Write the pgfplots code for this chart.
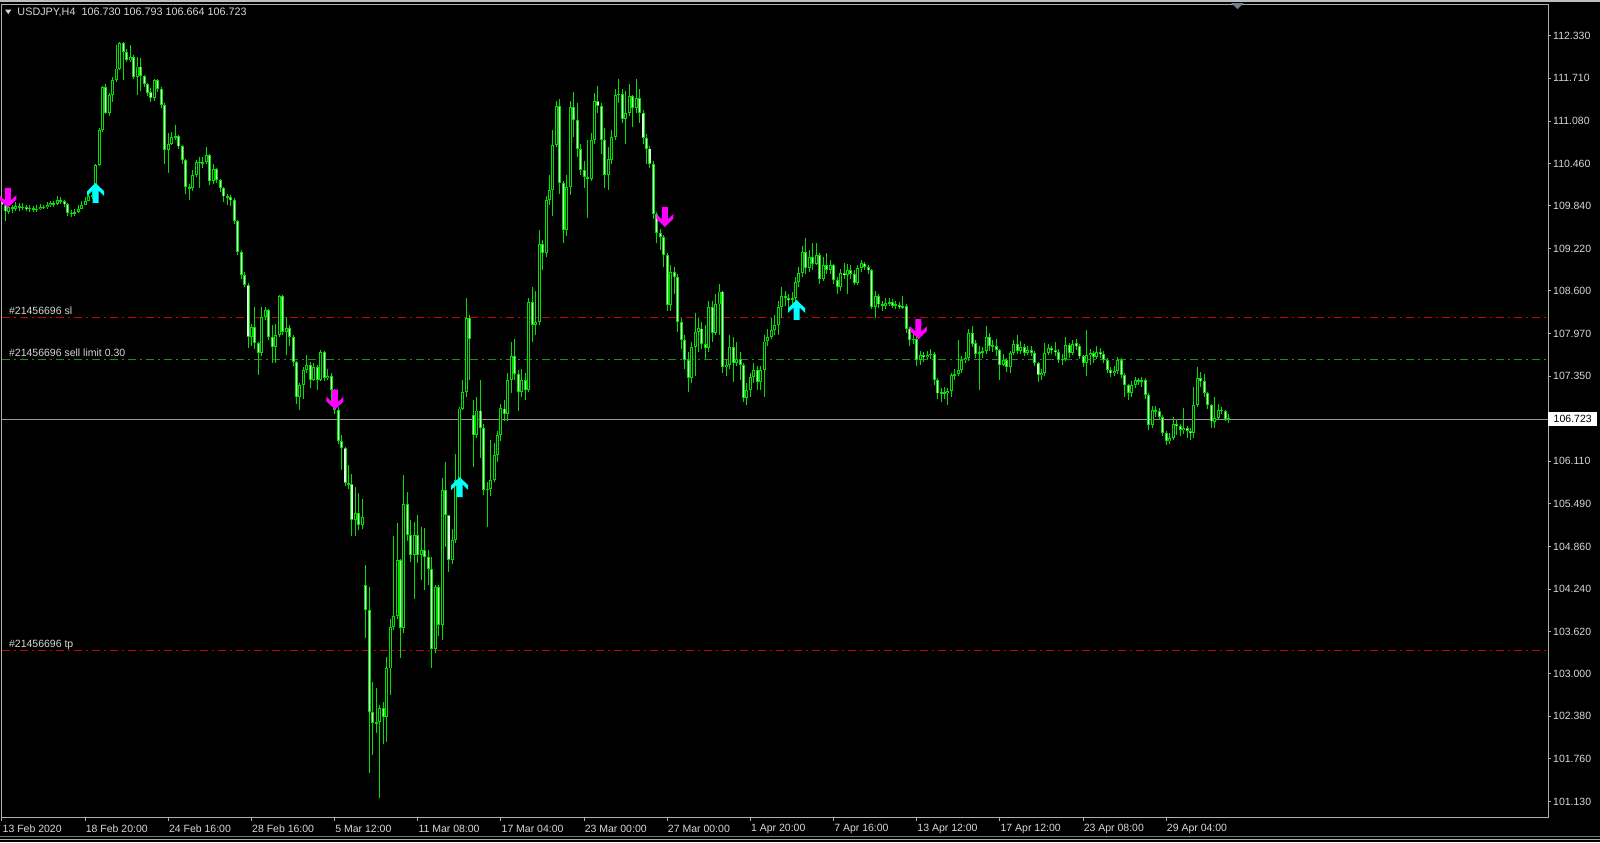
\documentclass[border=0pt]{standalone}
\usepackage{fontspec}
\setmainfont{Liberation Sans}
\usepackage{pgfplots}
\pgfplotsset{compat=1.18}
\usepackage{pgfplotstable}

\definecolor{wick}{RGB}{0,225,0}
\definecolor{bearfill}{RGB}{215,255,215}
\definecolor{framegray}{RGB}{175,175,175}
\definecolor{lbl}{RGB}{215,215,215}
\definecolor{slred}{RGB}{205,0,0}
\definecolor{limgreen}{RGB}{20,150,20}
\definecolor{curgray}{RGB}{150,150,150}
\definecolor{arrcyan}{RGB}{0,255,255}
\definecolor{arrmag}{RGB}{255,0,255}
\definecolor{wtop}{RGB}{190,190,190}
\definecolor{wbot}{RGB}{170,170,170}
\definecolor{wbot2}{RGB}{120,120,120}
\definecolor{shiftc}{RGB}{110,125,150}

\pgfdeclareplotmark{mtup}{%
  \pgfpathmoveto{\pgfqpoint{0bp}{10bp}}%
  \pgfpathlineto{\pgfqpoint{8.5bp}{1.8bp}}%
  \pgfpathlineto{\pgfqpoint{8.5bp}{-2.8bp}}%
  \pgfpathlineto{\pgfqpoint{3bp}{2.4bp}}%
  \pgfpathlineto{\pgfqpoint{3bp}{-10bp}}%
  \pgfpathlineto{\pgfqpoint{-3bp}{-10bp}}%
  \pgfpathlineto{\pgfqpoint{-3bp}{2.4bp}}%
  \pgfpathlineto{\pgfqpoint{-8.5bp}{-2.8bp}}%
  \pgfpathlineto{\pgfqpoint{-8.5bp}{1.8bp}}%
  \pgfpathclose\pgfusepathqfill}
\pgfdeclareplotmark{mtdown}{%
  \pgfpathmoveto{\pgfqpoint{0bp}{-10bp}}%
  \pgfpathlineto{\pgfqpoint{8.5bp}{-1.8bp}}%
  \pgfpathlineto{\pgfqpoint{8.5bp}{2.8bp}}%
  \pgfpathlineto{\pgfqpoint{3bp}{-2.4bp}}%
  \pgfpathlineto{\pgfqpoint{3bp}{10bp}}%
  \pgfpathlineto{\pgfqpoint{-3bp}{10bp}}%
  \pgfpathlineto{\pgfqpoint{-3bp}{-2.4bp}}%
  \pgfpathlineto{\pgfqpoint{-8.5bp}{2.8bp}}%
  \pgfpathlineto{\pgfqpoint{-8.5bp}{-1.8bp}}%
  \pgfpathclose\pgfusepathqfill}

\pgfplotstableread{
i o h l c
0 109.93 109.97 109.72 109.86
1 109.86 109.88 109.62 109.76
2 109.76 109.88 109.72 109.82
3 109.82 109.86 109.74 109.80
4 109.80 109.90 109.77 109.84
5 109.84 109.88 109.77 109.82
6 109.82 109.89 109.78 109.83
7 109.83 109.86 109.76 109.80
8 109.80 109.85 109.76 109.81
9 109.81 109.84 109.75 109.79
10 109.79 109.85 109.76 109.80
11 109.80 109.87 109.78 109.83
12 109.83 109.86 109.79 109.82
13 109.82 109.90 109.80 109.85
14 109.85 109.92 109.82 109.88
15 109.88 109.92 109.83 109.87
16 109.87 109.98 109.86 109.93
17 109.93 109.97 109.87 109.91
18 109.91 109.93 109.83 109.87
19 109.87 109.88 109.70 109.74
20 109.74 109.78 109.68 109.73
21 109.73 109.79 109.70 109.75
22 109.75 109.85 109.74 109.80
23 109.80 109.92 109.79 109.86
24 109.86 109.97 109.85 109.92
25 109.92 110.03 109.91 109.98
26 109.98 110.06 109.94 110.00
27 110.00 110.46 109.98 110.44
28 110.44 110.98 110.42 110.95
29 110.95 111.60 110.92 111.58
30 111.58 111.62 111.18 111.20
31 111.20 111.50 111.15 111.46
32 111.46 111.72 111.36 111.68
33 111.68 112.20 111.66 111.85
34 111.85 112.24 111.83 112.22
35 112.22 112.24 111.68 112.09
36 112.09 112.14 111.94 111.97
37 111.97 112.20 111.95 112.02
38 112.02 112.05 111.70 111.73
39 111.73 112.02 111.46 111.88
40 111.88 112.00 111.52 111.74
41 111.74 111.76 111.58 111.62
42 111.62 111.64 111.45 111.50
43 111.50 111.56 111.36 111.42
44 111.42 111.70 111.38 111.68
45 111.68 111.70 111.50 111.55
46 111.55 111.58 111.28 111.32
47 111.32 111.34 110.46 110.66
48 110.66 110.90 110.32 110.75
49 110.75 110.92 110.73 110.85
50 110.85 111.02 110.80 110.86
51 110.86 110.88 110.68 110.71
52 110.71 110.73 110.45 110.51
53 110.51 110.53 110.02 110.12
54 110.12 110.16 109.93 110.10
55 110.10 110.36 110.06 110.30
56 110.30 110.52 110.27 110.49
57 110.49 110.55 110.10 110.47
58 110.47 110.55 110.40 110.48
59 110.48 110.70 110.45 110.58
60 110.58 110.60 110.15 110.20
61 110.20 110.45 110.16 110.38
62 110.38 110.40 110.18 110.22
63 110.22 110.24 110.05 110.10
64 110.10 110.12 109.90 109.98
65 109.98 110.02 109.85 109.97
66 109.97 110.00 109.84 109.93
67 109.93 109.96 109.58 109.62
68 109.62 109.64 109.12 109.17
69 109.17 109.20 108.78 108.83
70 108.83 108.88 108.65 108.69
71 108.69 108.72 107.76 107.93
72 107.93 108.12 107.80 108.07
73 108.07 108.37 107.75 107.84
74 107.84 107.85 107.37 107.69
75 107.69 108.37 107.65 108.22
76 108.22 108.37 108.18 108.32
77 108.32 108.33 107.88 107.93
78 107.93 108.10 107.55 107.78
79 107.78 108.12 107.54 107.95
80 107.95 108.54 107.92 108.52
81 108.52 108.54 107.95 108.00
82 108.00 108.22 107.66 108.05
83 108.05 108.10 107.80 107.93
84 107.93 107.95 107.50 107.56
85 107.56 107.58 106.95 107.05
86 107.05 107.26 106.86 107.22
87 107.22 107.48 107.02 107.44
88 107.44 107.66 107.40 107.52
89 107.52 107.56 107.18 107.30
90 107.30 107.55 107.28 107.49
91 107.49 107.52 107.15 107.30
92 107.30 107.73 107.28 107.71
93 107.71 107.72 107.28 107.32
94 107.32 107.45 107.30 107.36
95 107.36 107.40 106.98 107.15
96 107.15 107.16 106.80 106.86
97 106.86 106.90 106.36 106.40
98 106.40 106.49 105.98 106.30
99 106.30 106.32 105.75 105.79
100 105.79 106.05 105.70 105.77
101 105.77 105.93 105.01 105.25
102 105.25 105.73 105.01 105.35
103 105.35 105.64 105.10 105.18
104 105.18 105.56 105.12 105.30
105 104.30 104.59 103.52 103.93
106 103.93 104.27 101.55 102.45
107 102.45 102.88 101.81 102.28
108 102.28 102.79 102.13 102.30
109 102.30 102.55 101.18 102.50
110 102.50 102.59 101.98 102.37
111 102.37 103.25 102.00 103.08
112 103.08 103.81 102.69 103.69
113 103.69 105.01 103.64 103.84
114 103.84 105.20 103.80 104.66
115 104.66 104.68 103.23 103.67
116 103.67 105.91 103.60 105.49
117 105.49 105.66 104.95 105.03
118 105.03 105.25 104.64 104.74
119 104.74 105.22 104.10 105.03
120 105.03 105.32 104.62 104.74
121 104.74 105.15 104.37 104.81
122 104.81 105.13 104.23 104.71
123 104.71 104.81 104.30 104.54
124 104.54 104.71 103.08 103.37
125 103.37 104.30 103.30 104.27
126 104.27 104.30 103.55 103.71
127 103.71 105.86 103.49 105.69
128 105.69 106.10 104.86 105.32
129 105.32 105.33 104.49 104.66
130 104.66 105.12 104.60 104.96
131 104.96 106.22 104.92 105.83
132 105.83 106.90 105.65 106.88
133 106.88 107.30 106.86 107.12
134 107.12 108.49 107.05 108.20
135 108.20 108.25 107.30 107.90
136 106.78 107.00 106.03 106.49
137 106.49 107.05 106.45 106.85
138 106.85 107.30 106.15 106.59
139 106.59 106.65 105.62 105.69
140 105.69 105.80 105.15 105.71
141 105.71 106.42 105.60 105.83
142 105.83 106.37 105.80 106.20
143 106.20 106.55 106.10 106.49
144 106.49 106.95 106.40 106.88
145 106.88 107.00 106.70 106.80
146 106.80 107.40 106.70 107.30
147 107.30 107.85 107.10 107.65
148 107.65 107.90 107.30 107.39
149 107.39 107.45 106.85 107.12
150 107.12 107.45 107.05 107.29
151 107.29 107.40 107.00 107.15
152 107.15 108.50 107.12 108.44
153 108.44 108.65 107.85 108.10
154 108.10 108.60 107.95 108.15
155 108.15 109.49 108.10 109.29
156 109.29 109.35 108.90 109.15
157 109.15 109.98 109.10 109.93
158 109.93 110.30 109.85 110.07
159 110.07 110.95 109.70 110.73
160 110.73 111.37 110.70 111.30
161 111.30 111.40 110.02 110.17
162 110.17 110.20 109.30 109.49
163 109.49 110.30 109.40 110.12
164 110.12 111.38 110.00 111.29
165 111.29 111.51 110.85 111.10
166 111.10 111.34 110.55 110.68
167 110.68 110.75 110.30 110.37
168 110.37 110.50 110.10 110.26
169 110.26 110.80 109.66 110.24
170 110.24 110.90 110.20 110.80
171 110.80 111.50 110.75 111.37
172 111.37 111.60 111.20 111.30
173 111.30 111.35 110.60 110.80
174 110.80 110.98 110.10 110.29
175 110.29 110.70 110.08 110.52
176 110.52 110.95 110.45 110.85
177 110.85 111.55 110.80 111.46
178 111.46 111.70 111.35 111.48
179 111.48 111.55 111.05 111.12
180 111.12 111.52 110.75 111.20
181 111.20 111.62 111.15 111.45
182 111.45 111.47 111.00 111.27
183 111.27 111.70 111.20 111.42
184 111.42 111.55 111.05 111.20
185 111.20 111.25 110.75 110.83
186 110.83 110.90 110.45 110.68
187 110.68 110.72 110.40 110.46
188 110.46 110.50 109.65 109.73
189 109.73 109.76 109.30 109.44
190 109.44 109.50 109.20 109.39
191 109.39 109.42 108.95 109.12
192 109.12 109.15 108.30 108.39
193 108.39 108.98 108.30 108.88
194 108.88 108.95 108.55 108.80
195 108.80 108.85 108.00 108.15
196 108.15 108.20 107.75 107.88
197 107.88 107.95 107.45 107.59
198 107.59 107.70 107.12 107.32
199 107.32 107.85 107.25 107.78
200 107.78 108.27 107.35 108.00
201 108.00 108.20 107.70 108.05
202 108.05 108.15 107.75 107.83
203 107.83 108.10 107.60 107.76
204 107.76 108.45 107.70 108.37
205 108.37 108.45 107.85 107.98
206 107.98 108.56 107.95 108.40
207 108.40 108.70 107.95 108.59
208 108.59 108.60 107.40 107.49
209 107.49 107.60 107.35 107.52
210 107.52 107.95 107.45 107.78
211 107.78 107.92 107.27 107.54
212 107.54 107.85 107.50 107.61
213 107.61 107.70 107.30 107.52
214 107.52 107.55 106.98 107.03
215 107.03 107.25 106.93 107.15
216 107.15 107.40 107.05 107.34
217 107.34 107.55 107.25 107.44
218 107.44 107.50 107.15 107.27
219 107.27 107.50 107.15 107.44
220 107.44 107.95 107.05 107.86
221 107.86 108.05 107.80 107.93
222 107.93 108.20 107.90 108.03
223 108.03 108.25 107.95 108.10
224 108.10 108.45 107.95 108.37
225 108.37 108.66 108.20 108.52
226 108.52 108.60 108.38 108.50
227 108.50 108.55 108.35 108.47
228 108.47 108.58 108.40 108.49
229 108.49 108.80 108.20 108.73
230 108.73 108.95 108.65 108.86
231 108.86 109.25 108.80 109.17
232 109.17 109.37 108.85 108.93
233 108.93 109.20 108.88 109.10
234 109.10 109.30 108.90 108.99
235 108.99 109.30 108.98 109.13
236 109.13 109.15 108.70 108.78
237 108.78 109.10 108.75 108.98
238 108.98 109.15 108.85 108.91
239 108.91 109.05 108.85 108.98
240 108.98 108.99 108.70 108.76
241 108.76 108.80 108.55 108.66
242 108.66 108.92 108.60 108.86
243 108.86 109.00 108.78 108.83
244 108.83 109.00 108.55 108.90
245 108.90 108.98 108.78 108.85
246 108.85 108.90 108.68 108.71
247 108.71 108.98 108.68 108.93
248 108.93 109.05 108.88 109.00
249 109.00 109.02 108.90 108.95
250 108.95 108.98 108.85 108.90
251 108.90 108.92 108.33 108.37
252 108.37 108.60 108.20 108.52
253 108.52 108.55 108.35 108.40
254 108.40 108.45 108.30 108.38
255 108.38 108.50 108.33 108.42
256 108.42 108.50 108.38 108.44
257 108.44 108.48 108.35 108.38
258 108.38 108.45 108.34 108.40
259 108.40 108.44 108.33 108.36
260 108.36 108.52 108.33 108.38
261 108.38 108.40 107.98 108.05
262 108.05 108.07 107.80 107.88
263 107.88 107.98 107.82 107.90
264 107.90 107.92 107.50 107.59
265 107.59 107.72 107.52 107.66
266 107.66 107.70 107.56 107.63
267 107.63 107.72 107.60 107.66
268 107.66 107.75 107.60 107.68
269 107.68 107.70 107.22 107.30
270 107.30 107.32 107.02 107.10
271 107.10 107.18 106.98 107.12
272 107.12 107.20 107.02 107.10
273 107.10 107.18 106.93 107.13
274 107.13 107.40 107.05 107.37
275 107.37 107.45 107.30 107.38
276 107.38 107.88 107.35 107.44
277 107.44 107.65 107.40 107.59
278 107.59 107.70 107.55 107.62
279 107.62 108.05 107.58 107.98
280 107.98 108.08 107.78 107.83
281 107.83 107.88 107.62 107.68
282 107.68 107.80 107.15 107.70
283 107.70 107.78 107.62 107.72
284 107.72 108.08 107.68 107.93
285 107.93 107.98 107.72 107.79
286 107.79 107.88 107.70 107.80
287 107.80 107.90 107.65 107.73
288 107.73 107.75 107.30 107.52
289 107.52 107.68 107.50 107.59
290 107.59 107.62 107.42 107.49
291 107.49 107.72 107.40 107.69
292 107.69 107.88 107.66 107.83
293 107.83 107.95 107.68 107.72
294 107.72 107.86 107.68 107.78
295 107.78 107.82 107.65 107.69
296 107.69 107.80 107.66 107.74
297 107.74 107.80 107.64 107.69
298 107.69 107.72 107.50 107.54
299 107.54 107.56 107.27 107.37
300 107.37 107.45 107.30 107.40
301 107.40 107.83 107.35 107.69
302 107.69 107.82 107.66 107.76
303 107.76 107.80 107.68 107.73
304 107.73 107.85 107.65 107.70
305 107.70 107.75 107.55 107.59
306 107.59 107.68 107.52 107.61
307 107.61 107.93 107.58 107.81
308 107.81 107.84 107.62 107.69
309 107.69 107.88 107.66 107.83
310 107.83 107.90 107.74 107.79
311 107.79 107.82 107.60 107.64
312 107.64 107.66 107.48 107.54
313 107.54 108.03 107.35 107.66
314 107.66 107.75 107.52 107.69
315 107.69 107.72 107.55 107.63
316 107.63 107.80 107.60 107.71
317 107.71 107.76 107.62 107.67
318 107.67 107.72 107.55 107.59
319 107.59 107.62 107.40 107.44
320 107.44 107.48 107.34 107.40
321 107.40 107.50 107.35 107.43
322 107.43 107.63 107.38 107.59
323 107.59 107.62 107.33 107.37
324 107.37 107.40 107.05 107.22
325 107.22 107.24 107.00 107.10
326 107.10 107.28 107.05 107.22
327 107.22 107.34 107.18 107.29
328 107.29 107.33 107.22 107.27
329 107.27 107.34 107.20 107.29
330 107.29 107.32 107.02 107.08
331 107.08 107.10 106.56 106.64
332 106.64 106.92 106.60 106.86
333 106.86 106.92 106.76 106.84
334 106.84 106.88 106.72 106.76
335 106.76 106.78 106.48 106.52
336 106.52 106.55 106.35 106.40
337 106.40 106.52 106.36 106.45
338 106.45 106.75 106.42 106.66
339 106.66 106.72 106.50 106.62
340 106.62 106.65 106.48 106.56
341 106.56 106.88 106.50 106.60
342 106.60 106.62 106.45 106.55
343 106.55 106.60 106.42 106.52
344 106.52 107.20 106.45 106.93
345 106.93 107.49 106.90 107.32
346 107.32 107.42 107.20 107.28
347 107.28 107.38 107.05 107.10
348 107.10 107.12 106.88 106.93
349 106.93 106.95 106.60 106.69
350 106.69 107.05 106.60 106.74
351 106.74 106.95 106.72 106.86
352 106.86 106.90 106.80 106.85
353 106.85 106.86 106.70 106.73
354 106.730 106.793 106.664 106.723
}\candles

\begin{document}
\begin{tikzpicture}[x=1bp,y=1bp]
\fill[black] (0,0) rectangle (1600,-842);
\path[use as bounding box] (0,0) rectangle (1600,-842);
% window borders
\draw[wtop, line width=1.6bp] (0,-0.8) -- (1600,-0.8);
\draw[wbot, line width=1.5bp] (0,-839.5) -- (1600,-839.5);
\draw[wbot2, line width=1bp] (0,-836.5) -- (1600,-836.5);

\begin{axis}[
  at={(1.5bp,-817.5bp)}, anchor=south west,
  scale only axis, width=1546.5bp, height=813.5bp,
  xmin=-0.144, xmax=446.18, ymin=100.90, ymax=112.793,
  axis line style={draw=framegray, line width=1bp},
  tick style={draw=framegray, line width=1bp},
  tick align=outside, major tick length=3bp,
  xtick pos=left, ytick pos=right, yticklabel pos=right,
  xtick={0,24,...,336},
  xticklabels={13 Feb 2020,18 Feb 20:00,24 Feb 16:00,28 Feb 16:00,5 Mar 12:00,11 Mar 08:00,17 Mar 04:00,23 Mar 00:00,27 Mar 00:00,1 Apr 20:00,7 Apr 16:00,13 Apr 12:00,17 Apr 12:00,23 Apr 08:00,29 Apr 04:00},
  ytick={101.13,101.76,102.38,103.00,103.62,104.24,104.86,105.49,106.11,107.35,107.97,108.60,109.22,109.84,110.46,111.08,111.71,112.33},
  yticklabels={101.130,101.760,102.380,103.000,103.620,104.240,104.860,105.490,106.110,107.350,107.970,108.600,109.220,109.840,110.460,111.080,111.710,112.330},
  tick label style={font=\fontsize{10.5bp}{12bp}\selectfont, text=lbl},
  xticklabel style={anchor=west, inner sep=0pt, xshift=0.5bp, yshift=-8bp},
  yticklabel style={anchor=west, inner sep=0pt, xshift=2bp},
]
% order lines
\addplot[slred, line width=1bp, dash pattern=on 8bp off 4bp on 2bp off 4bp] coordinates {(-0.144,108.207) (446.18,108.207)};
\addplot[limgreen, line width=1bp, dash pattern=on 8bp off 4bp on 2bp off 4bp] coordinates {(-0.144,107.593) (446.18,107.593)};
\addplot[slred, line width=1bp, dash pattern=on 8bp off 4bp on 2bp off 4bp] coordinates {(-0.144,103.349) (446.18,103.349)};
\addplot[curgray, line width=1bp] coordinates {(-0.144,106.723) (446.18,106.723)};

% wicks
\addplot[draw=none, mark=none, error bars/.cd, y dir=both, y explicit, error mark=none,
  error bar style={draw=wick, line width=1bp, solid}]
  table[x=i, y expr={(\thisrow{h}+\thisrow{l})/2}, y error expr={(\thisrow{h}-\thisrow{l})/2}] {\candles};
% body outlines
\addplot[draw=none, mark=none, error bars/.cd, y dir=both, y explicit, error mark=none,
  error bar style={draw=wick, line width=3.0bp, solid}]
  table[x=i, y expr={(\thisrow{o}+\thisrow{c})/2}, y error expr={max(abs(\thisrow{o}-\thisrow{c})/2,0.008)}] {\candles};
% bull interiors (black)
\addplot[draw=none, mark=none, error bars/.cd, y dir=both, y explicit, error mark=none,
  error bar style={draw=black, line width=1.0bp, solid}]
  table[x=i, y expr={\thisrow{c}>\thisrow{o} ? (\thisrow{o}+\thisrow{c})/2 : nan}, y error expr={max(abs(\thisrow{o}-\thisrow{c})/2-0.014,0)}] {\candles};
% bear interiors (white)
\addplot[draw=none, mark=none, error bars/.cd, y dir=both, y explicit, error mark=none,
  error bar style={draw=bearfill, line width=1.1bp, solid}]
  table[x=i, y expr={\thisrow{c}<\thisrow{o} ? (\thisrow{o}+\thisrow{c})/2 : nan}, y error expr={max(abs(\thisrow{o}-\thisrow{c})/2-0.014,0)}] {\candles};

% signal arrows
\addplot[only marks, mark=mtup, color=arrcyan] coordinates {(27.0,110.03) (132.1,105.73) (229.3,108.32)};
\addplot[only marks, mark=mtdown, color=arrmag] coordinates {(1.7,109.96) (96.1,107.01) (191.3,109.68) (264.5,108.04)};

% line labels
\node[anchor=base west, inner sep=0pt, text=lbl, font=\fontsize{10.5bp}{12bp}\selectfont, yshift=3bp] at (axis cs:2.0,108.207) {\#21456696 sl};
\node[anchor=base west, inner sep=0pt, text=lbl, font=\fontsize{10.5bp}{12bp}\selectfont, yshift=3bp] at (axis cs:2.0,107.593) {\#21456696 sell limit 0.30};
\node[anchor=base west, inner sep=0pt, text=lbl, font=\fontsize{10.5bp}{12bp}\selectfont, yshift=2.5bp] at (axis cs:2.0,103.349) {\#21456696 tp};
\coordinate (cur) at (axis cs:446.18,106.723);
\end{axis}

% current price tag
\node[fill=white, text=black, inner sep=0pt, minimum width=49bp, minimum height=14bp, anchor=west,
  font=\fontsize{10.5bp}{12bp}\selectfont] at (cur) {106.723};

% header
\fill[lbl] (5,-9.5) -- (11.5,-9.5) -- (8.25,-14) -- cycle;
\node[anchor=west, inner sep=0pt, text=lbl, font=\fontsize{10.8bp}{12bp}\selectfont] at (17.3,-12.2)
  {USDJPY,H4\ \ 106.730 106.793 106.664 106.723};
% chart shift marker
\fill[shiftc] (1231,-3) -- (1244,-3) -- (1237.5,-9) -- cycle;
\end{tikzpicture}
\end{document}
